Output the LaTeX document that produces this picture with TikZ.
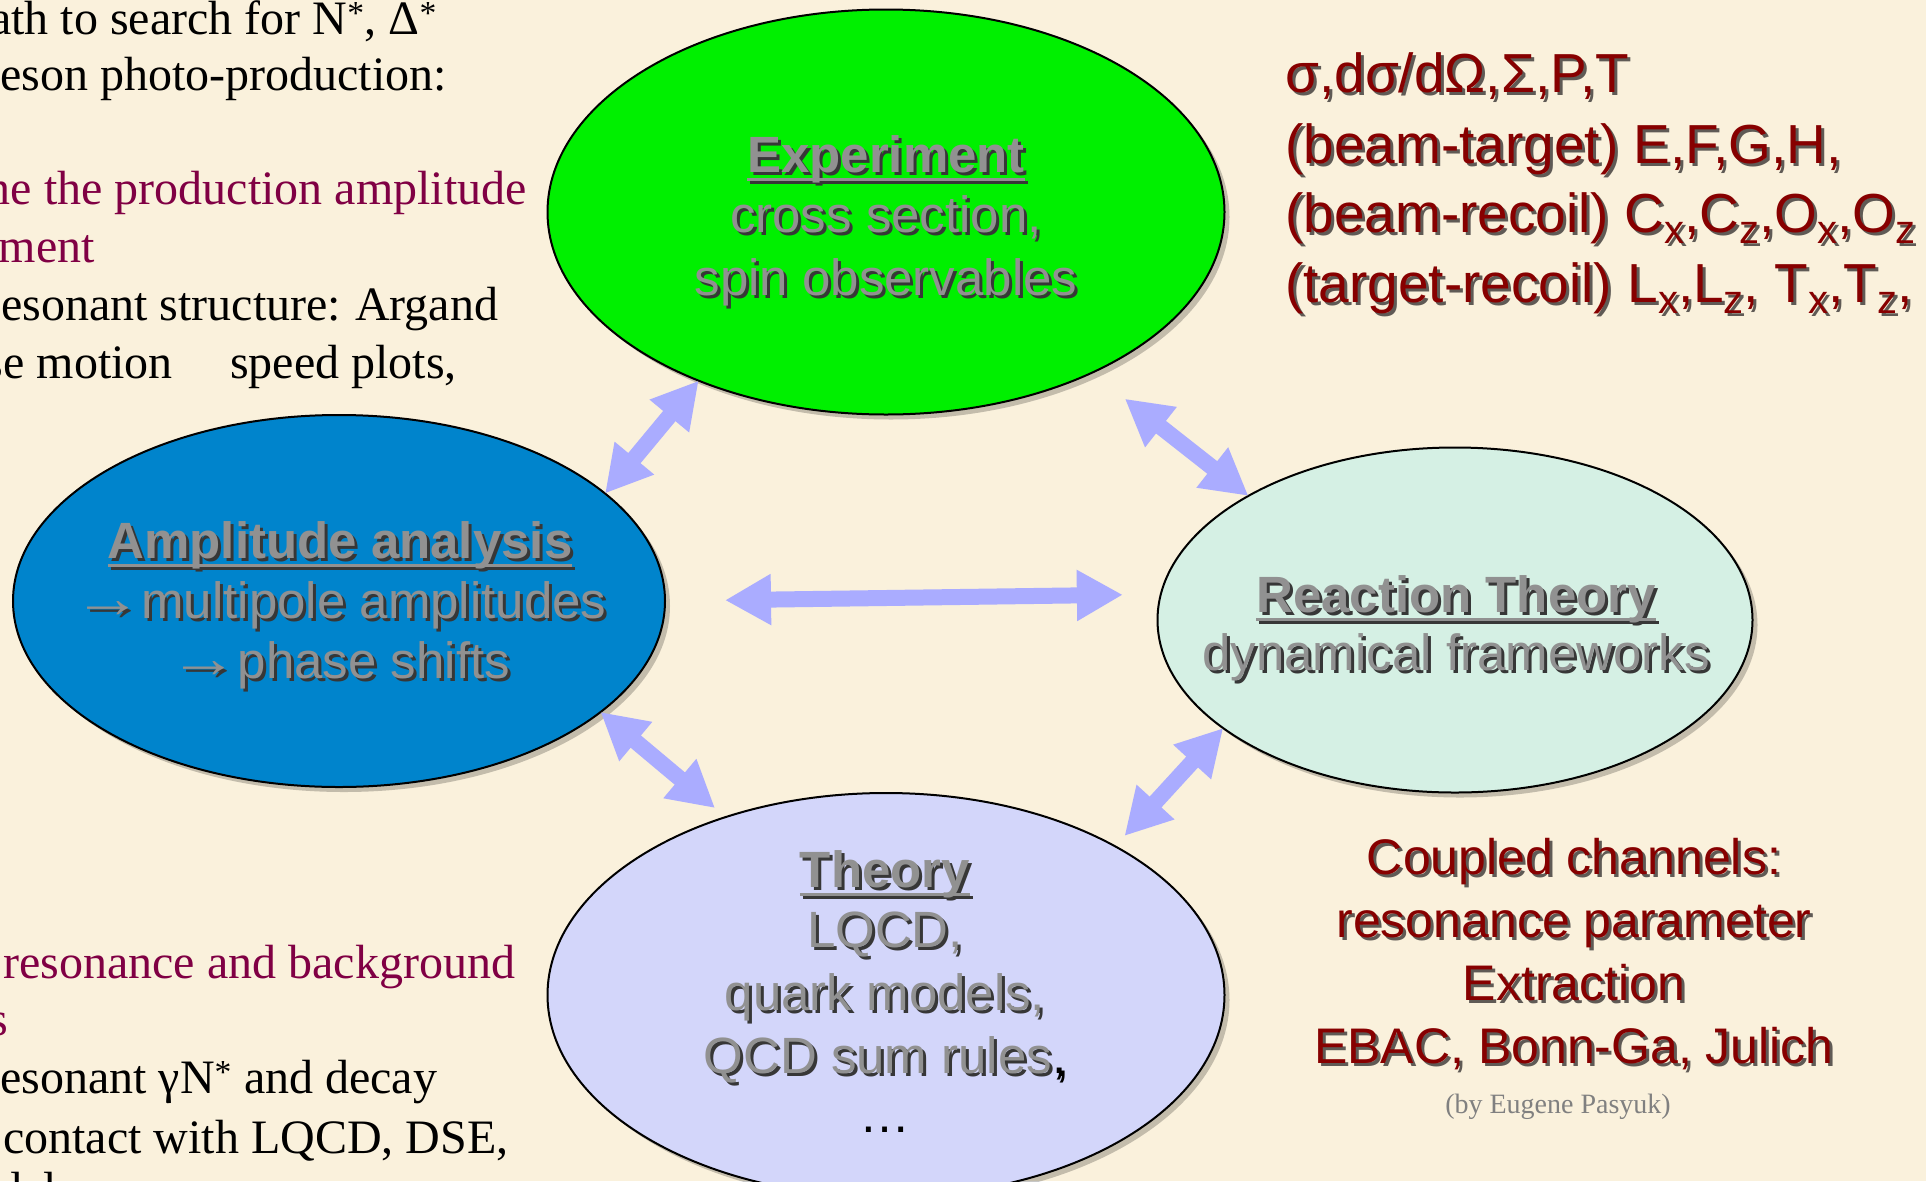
\documentclass[tikz,border=0pt]{standalone}
\usepackage{fontspec}
\setmainfont{Liberation Serif}
\newfontfamily\arialf{Liberation Sans}
\usetikzlibrary{shapes.geometric,arrows.meta,shadows}
\definecolor{bgc}{RGB}{250,241,220}
\definecolor{expgreen}{RGB}{0,240,0}
\definecolor{ampblue}{RGB}{0,132,204}
\definecolor{reagreen}{RGB}{213,240,228}
\definecolor{theolav}{RGB}{211,214,250}
\definecolor{arrowc}{RGB}{170,172,255}
\definecolor{txtgray}{RGB}{145,145,145}
\definecolor{dred}{RGB}{135,0,0}
\definecolor{dpurple}{RGB}{128,0,68}
\definecolor{authgray}{RGB}{128,128,128}
\definecolor{shdark}{RGB}{55,55,55}
\definecolor{shred}{RGB}{95,90,85}
\newcommand\ulin[1]{\setbox0\hbox{#1}\dp0=0pt\leavevmode\vtop{\box0\kern6pt\hrule height 3pt}}
\newcommand\sbx[1]{\raisebox{-11pt}{\fontsize{40}{40}\selectfont #1}}
\newcommand\shd[2]{\leavevmode\rlap{\kern3pt\raisebox{-3pt}{\color{#1}#2}}#2}
\newcommand\arr{\raisebox{1pt}{\scalebox{1.35}[1.1]{→}}\kern-1pt}
\tikzset{
  ell/.style={ellipse, draw=black, line width=2pt, inner sep=0pt, outer sep=0pt,
    drop shadow={shadow xshift=5pt, shadow yshift=-5pt, opacity=0.22, fill=black}},
  intext/.style={anchor=base, inner sep=0pt, text=txtgray, font=\arialf\fontsize{51}{60}\selectfont},
  inbold/.style={intext, font=\arialf\bfseries\fontsize{51}{60}\selectfont},
  lefttext/.style={anchor=base east, inner sep=0pt, text=black, font=\fontsize{48}{58}\selectfont},
  leftpurple/.style={lefttext, text=dpurple},
  obstext/.style={anchor=base west, inner sep=0pt, text=dred, font=\arialf\fontsize{55}{66}\selectfont},
  cctext/.style={anchor=base, inner sep=0pt, text=dred, font=\arialf\fontsize{50}{60}\selectfont},
  dblarrow/.style={draw=arrowc, line width=16pt,
    {Triangle[width=48pt,length=46pt]}-{Triangle[width=48pt,length=46pt]}}
}
\begin{document}
\begin{tikzpicture}[x=1pt,y=-1pt]
\useasboundingbox (0,0) rectangle (1926,1181);
\clip (0,0) rectangle (1926,1181);
\fill[bgc] (0,0) rectangle (1926,1181);

% ellipses
\node[ell, fill=expgreen, minimum width=677pt, minimum height=405pt] (exp) at (886,212) {};
\node[ell, fill=ampblue, minimum width=652pt, minimum height=372pt] (amp) at (339,601) {};
\node[ell, fill=reagreen, minimum width=595pt, minimum height=345pt] (rea) at (1455,620) {};
\node[ell, fill=theolav, minimum width=677pt, minimum height=404pt] (theo) at (886,995) {};

% texts inside ellipses
\node[inbold] (e1) at (886,172) {\shd{shdark}{\ulin{Experiment}}};
\node[intext] (e2) at (886,232) {\shd{shdark}{cross section,}};
\node[intext] (e3) at (886,295) {\shd{shdark}{spin observables}};

\node[inbold] (a1) at (340,558) {\shd{shdark}{\ulin{Amplitude analysis}}};
\node[intext] (a2) at (340,618) {\shd{shdark}{\arr multipole amplitudes}};
\node[intext] (a3) at (340,678) {\shd{shdark}{\arr phase shifts}};

\node[inbold] (r1) at (1456,612) {\shd{shdark}{\ulin{Reaction Theory}}};
\node[intext] (r2) at (1456,670) {\shd{shdark}{dynamical frameworks}};

\node[inbold] (t1) at (885,887) {\shd{shdark}{\ulin{Theory}}};
\node[intext] (t2) at (885,947) {\shd{shdark}{LQCD,}};
\node[intext] (t3) at (885,1010) {\shd{shdark}{quark models,}};
\node[intext] (t4) at (885,1073) {\shd{shdark}{QCD sum rules\textcolor{black}{,}}};
\node[intext, text=black] (t5) at (885,1132) {…};

% left texts
\node[lefttext] (l1) at (437,34) {ath to search for N\textsuperscript{*}, Δ\textsuperscript{*}};
\node[lefttext, anchor=base west] (l2) at (0,90) {eson photo-production:};
\node[leftpurple] (l3) at (527,204) {ne the production amplitude};
\node[leftpurple] (l4) at (95,262) {ment};
\node[lefttext, anchor=base west] (l5) at (1,320) {esonant structure:\hspace{14pt}Argand};
\node[lefttext] (l6) at (173,378) {se motion};
\node[lefttext] (l6b) at (457,378) {speed plots,};
\node[leftpurple, anchor=base west] (l7) at (3,978) {resonance and background};
\node[leftpurple] (l8) at (8,1035) {s};
\node[lefttext, anchor=base west] (l9) at (0,1093) {esonant γN\textsuperscript{*} and decay};
\node[lefttext, anchor=base west] (l10) at (3,1153) {contact with LQCD, DSE,};
\node[lefttext, anchor=base west] (l11) at (-2,1205) {dels};

% right top observables
\node[obstext] (o1) at (1285,92) {\shd{shred}{σ,dσ/dΩ,Σ,P,T}};
\node[obstext] (o2) at (1285,163) {\shd{shred}{(beam-target) E,F,G,H,}};
\node[obstext] (o3) at (1285,232) {\shd{shred}{(beam-recoil) C\sbx{x},C\sbx{z},O\sbx{x},O\sbx{z}}};
\node[obstext] (o4) at (1285,302) {\shd{shred}{(target-recoil) L\sbx{x},L\sbx{z}, T\sbx{x},T\sbx{z},}};

% right bottom
\node[cctext] (c1) at (1574,874) {\shd{shred}{Coupled channels:}};
\node[cctext] (c2) at (1574,937) {\shd{shred}{resonance parameter}};
\node[cctext] (c3) at (1574,1000) {\shd{shred}{Extraction}};
\node[cctext] (c4) at (1574,1063) {\shd{shred}{EBAC, Bonn-Ga, Julich}};
\node[anchor=base, inner sep=0pt, text=authgray, font=\fontsize{28}{34}\selectfont] (c5) at (1558,1113) {(by Eugene Pasyuk)};

% arrows
\draw[dblarrow] (amp.22.6) -- (exp.222.5);
\draw[dblarrow, shorten <=42pt] (exp.-38.4) -- (rea.149.8);
\draw[dblarrow, shorten <=60pt, shorten >=38pt] (amp.0.7) -- (rea.175.5);
\draw[dblarrow, shorten >=14pt] (amp.-23.6) -- (theo.132.9);
\draw[dblarrow, shorten >=14pt] (rea.205.4) -- (theo.33.3);
\end{tikzpicture}
\end{document}
